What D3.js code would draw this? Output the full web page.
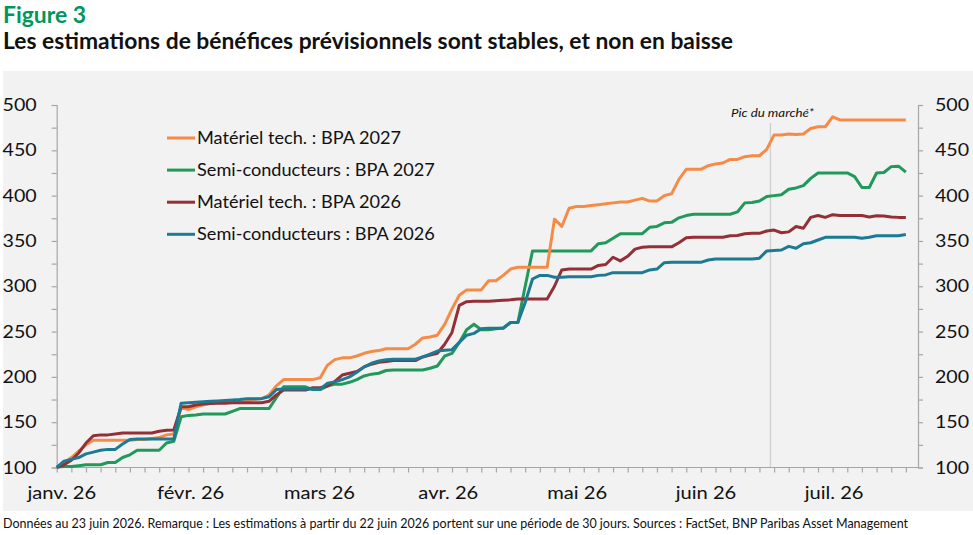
<!DOCTYPE html>
<html>
<head>
<meta charset="utf-8">
<script src="https://cdn.jsdelivr.net/npm/d3@7"></script>
<style>
    body { margin: 0; background: #ffffff; }
    text { font-family: Lato, "Open Sans", sans-serif; }
</style>
</head>
<body>
<svg id="canvas" width="973" height="535"></svg>
<script>
// month labels on the category axis (position = index of the half-tick sample)
var monthLabels = ['janv. 26', 'févr. 26', 'mars 26', 'avr. 26', 'mai 26', 'juin 26', 'juil. 26'];
var monthIndex = [0.7, 18.3, 35.9, 53.5, 71.1, 88.7, 106.2];
var yTicks = [100, 125, 150, 175, 200, 225, 250, 275, 300, 325, 350, 375, 400, 425, 450, 475, 500];
var peakIndex = 97.5;

var seriesNames = ['Matériel tech. : BPA 2027', 'Semi-conducteurs : BPA 2027', 'Matériel tech. : BPA 2026', 'Semi-conducteurs : BPA 2026'];

var techEps2027 = [
    100, 105, 111, 118, 125, 130, 130, 130, 130, 130,
    130, 131, 131, 132, 133, 136, 137, 166, 164, 167,
    169, 171, 172, 173, 173, 173, 174, 175, 176, 180,
    190, 197, 197, 197, 197, 197, 199, 213, 219, 221,
    221, 223, 226, 228, 229, 231, 231, 231, 231, 236,
    243, 244, 246, 258, 275, 290, 296, 296, 296, 306,
    306, 312, 319, 321, 321, 321, 321, 321, 374, 366,
    386, 388, 388, 389, 390, 391, 392, 393, 393, 395,
    397, 394, 394, 400, 402, 418, 429, 429, 429, 433,
    435, 436, 440, 440, 443, 444, 444, 451, 467, 467,
    468, 467.5, 468, 474, 476, 476, 487, 483.5, 483.5, 483.5,
    483.5, 483.5, 483.5, 483.5, 483.5, 483.5, 483.5
];
var semiEps2027 = [
    100.5, 101, 101, 102, 103, 103, 103, 105.5, 105.5, 111,
    114, 119, 119, 119, 119, 127, 129, 156, 157.5, 158,
    159, 159, 159, 159, 162, 165, 165, 165, 165, 165,
    177, 189, 189, 189, 189, 186, 186, 190, 192, 192,
    194, 197, 201, 203, 204, 207, 207.5, 207.5, 207.5, 207.5,
    207.5, 209.5, 212, 223, 226, 238, 252, 258, 252, 252,
    253, 254, 260, 260, 300, 339, 339, 339, 339, 339,
    339, 339, 339, 339, 347, 348, 353, 358, 358, 358,
    358, 365, 366, 370, 370.5, 375.5, 378, 379.5, 379.5, 379.5,
    379.5, 379.5, 379.5, 382, 392, 392.5, 394, 399, 400, 401,
    407, 408.5, 411, 419, 425, 425, 425, 425, 425, 421,
    409, 409, 425, 425.5, 432, 432.5, 426
];
var techEps2026 = [
    100, 103, 108, 116, 127, 135, 136, 136, 137, 138,
    138, 138, 138, 138, 140, 141, 141.5, 167, 167, 169,
    170, 170.5, 171, 171, 171.5, 171.5, 171.5, 171.5, 171.5, 173,
    180, 185.5, 185.5, 185.5, 185.5, 188, 188, 190, 195, 202,
    204, 206, 211, 214, 216, 217, 218, 218, 218, 218,
    222, 224, 226, 236, 249, 279, 283, 283.5, 283.5, 283.5,
    284, 284.5, 285, 286, 286, 286, 286, 286, 300, 318,
    319, 319, 319, 319, 323, 324, 332, 328, 333, 341,
    343, 343.5, 343.5, 343.5, 343.5, 348, 353.5, 354, 354, 354,
    354, 354, 355.8, 356, 358, 358.4, 358.4, 361, 362, 359,
    360, 366, 364, 376, 378, 376, 379, 378, 378, 378,
    378, 376.5, 377.8, 377.5, 376.5, 376, 376
];
var semiEps2026 = [
    100, 107, 109, 111, 115, 117, 119, 120, 120, 126,
    131, 131.5, 131.5, 131.5, 131.5, 131.5, 131.5, 171, 171.5, 172,
    172.5, 173, 173.5, 174, 174.5, 175, 176, 176, 176, 178,
    186, 186.5, 186.5, 186.5, 186.5, 186.5, 186.5, 193, 194.5, 197,
    200, 205, 211, 215, 217.5, 219, 219.4, 219.4, 219.4, 219.4,
    222, 225, 228.5, 229.5, 230, 238, 246, 248, 253, 253.6,
    253.6, 253.6, 260, 260, 282, 308, 312, 312, 310, 310,
    310.5, 310.5, 310.5, 310.5, 312, 312.5, 315, 315, 315, 315,
    315, 318, 319, 326, 326.4, 326.4, 326.4, 326.4, 326.4, 329,
    330, 330, 330, 330, 330, 330, 331, 339, 339.5, 340,
    344, 342, 347, 348, 351, 354, 354, 354, 354, 354,
    353, 354, 355.8, 355.8, 355.8, 355.8, 357
];

var seriesColors = ['#f68b47', '#20995a', '#952f36', '#1c7a93'];

// stretch a text to a measured width (the source picture is slightly widened)
function fitWidth(sel, width) {
    sel.attr('textLength', width).attr('lengthAdjust', 'spacingAndGlyphs');
}

function stretch(sel, k) {
    sel.each(function() {
        var w = this.getComputedTextLength();
        d3.select(this).attr('textLength', w * k).attr('lengthAdjust', 'spacingAndGlyphs');
    });
}

function drawChart() {
    "use strict";

    var svg = d3.select(document.getElementById('canvas'));
    var allSeries = [techEps2027, semiEps2027, techEps2026, semiEps2026];

    var x = d3.scaleLinear().domain([0, 117.66]).range([56.7, 918]);
    var y = d3.scaleLinear().domain([100, 500]).range([467.5, 105]);

    // titles
    svg.append('text').attr('x', 3).attr('y', 22.5)
        .attr('fill', '#00965e').attr('font-weight', 'bold').attr('font-size', 22)
        .text('Figure 3').call(fitWidth, 83);
    svg.append('text').attr('x', 3).attr('y', 49)
        .attr('fill', '#111111').attr('font-weight', 'bold').attr('font-size', 22)
        .text('Les estimations de bénéfices prévisionnels sont stables, et non en baisse')
        .call(fitWidth, 730);

    // panel
    svg.append('rect').attr('x', 3).attr('y', 71).attr('width', 970).attr('height', 440)
        .attr('fill', '#f2f2f2');

    // market peak marker
    svg.append('line')
        .attr('x1', x(peakIndex)).attr('x2', x(peakIndex))
        .attr('y1', 123).attr('y2', y(100))
        .attr('stroke', '#cfcfcf').attr('stroke-width', 1.3);
    svg.append('text').attr('x', x(peakIndex) + 2).attr('y', 117)
        .attr('text-anchor', 'middle').attr('font-style', 'italic').attr('font-size', 12)
        .attr('fill', '#111111').text('Pic du marché*').call(fitWidth, 83);

    // axes
    var tickIdx = d3.range(0, 117, 2);
    var xAxis = d3.axisBottom(x).tickValues(tickIdx).tickSize(5).tickFormat('');
    var gx = svg.append('g').attr('transform', 'translate(0,' + y(100) + ')').call(xAxis);
    gx.select('.domain').attr('d', 'M' + x(0) + ',0H918');

    var yFormat = function(d) { return d % 50 === 0 ? d : ''; };
    var gyl = svg.append('g').attr('transform', 'translate(' + x(0) + ',0)')
        .call(d3.axisLeft(y).tickValues(yTicks).tickSize(5).tickPadding(15).tickFormat(yFormat));
    var gyr = svg.append('g').attr('transform', 'translate(918,0)')
        .call(d3.axisRight(y).tickValues(yTicks).tickSize(5).tickPadding(12).tickFormat(yFormat));

    svg.selectAll('.domain, .tick line').attr('stroke', '#a6a6a6').attr('stroke-width', 1.2);
    svg.selectAll('.tick text').attr('font-family', 'Lato, sans-serif').attr('font-size', 17.5)
        .attr('fill', '#111111');
    gyl.selectAll('.tick text').call(stretch, 1.12);
    gyr.selectAll('.tick text').call(stretch, 1.12);

    // month labels
    svg.append('g').selectAll('text')
        .data(monthLabels)
        .enter().append('text')
        .attr('x', function(d, i) { return x(monthIndex[i]); })
        .attr('y', 499)
        .attr('text-anchor', 'middle')
        .attr('font-size', 17.5)
        .attr('fill', '#111111')
        .text(function(d) { return d; })
        .call(stretch, 1.15);

    // lines
    var line = d3.line()
        .x(function(d, i) { return x(i); })
        .y(function(d) { return y(d); });

    var drawOrder = [1, 0, 2, 3];
    svg.append('g').selectAll('path')
        .data(drawOrder)
        .enter().append('path')
        .attr('d', function(k) { return line(allSeries[k]); })
        .attr('fill', 'none')
        .attr('stroke', function(k) { return seriesColors[k]; })
        .attr('stroke-width', 3)
        .attr('stroke-linejoin', 'round');

    // legend
    var legend = svg.append('g').selectAll('g')
        .data(seriesNames)
        .enter().append('g')
        .attr('transform', function(d, i) { return 'translate(167,' + (138 + i * 32.1) + ')'; });
    legend.append('line')
        .attr('x1', 0).attr('x2', 28).attr('y1', 0).attr('y2', 0)
        .attr('stroke', function(d, i) { return seriesColors[i]; })
        .attr('stroke-width', 3);
    legend.append('text')
        .attr('x', 30).attr('y', 6)
        .attr('font-size', 16.5)
        .attr('fill', '#111111')
        .text(function(d) { return d; })
        .call(stretch, 1.1);

    // footnote
    svg.append('text').attr('x', 3).attr('y', 528)
        .attr('font-size', 12.5).attr('fill', '#111111')
        .text('Données au 23 juin 2026. Remarque : Les estimations à partir du 22 juin 2026 portent sur une période de 30 jours. Sources : FactSet, BNP Paribas Asset Management')
        .call(fitWidth, 905);
}

drawChart();
</script>
</body>
</html>
